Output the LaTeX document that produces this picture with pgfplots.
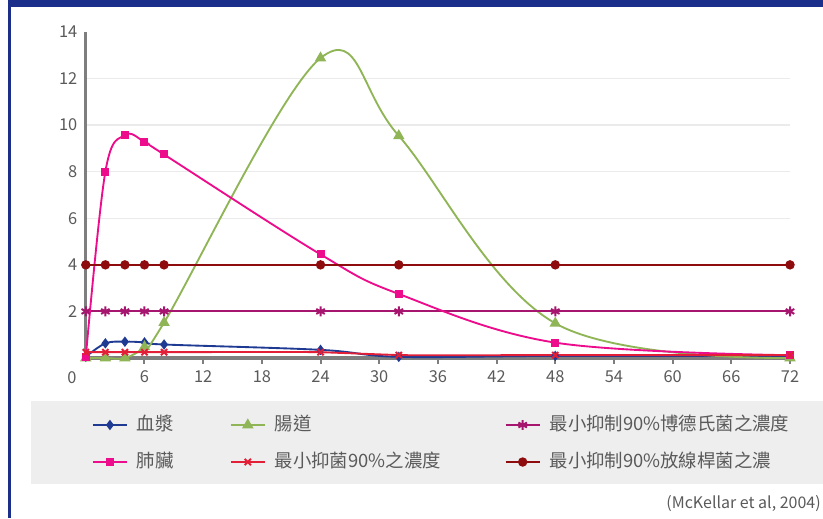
\documentclass[border=0pt]{standalone}
\usepackage{fontspec}
\setmainfont{Noto Sans CJK TC}
\usepackage{pgfplots}
\usepackage{pgfplotstable}
\pgfplotsset{compat=1.18}

\definecolor{frameblue}{HTML}{1B2E8A}
\definecolor{plasma}{HTML}{1F3A93}
\definecolor{gut}{HTML}{8FB556}
\definecolor{lung}{HTML}{EC0C8C}
\definecolor{micred}{HTML}{E21F36}
\definecolor{bord}{HTML}{A6166E}
\definecolor{actino}{HTML}{8E0B0E}
\definecolor{txtgray}{HTML}{5A5A5A}
\definecolor{axgray}{HTML}{7E7E7E}
\definecolor{gridgray}{HTML}{EBEBEB}
\definecolor{legbg}{HTML}{EEEEEE}

% concentration vs. hours after dosing
\pgfplotstableread{
t   plasma gut   bord lung mic   actino
0   0.05   0     2    0.05 0.25  4
2   0.63   0     2    8.00 0.25  4
4   0.70   0     2    9.57 0.25  4
6   0.67   0.48  2    9.28 0.25  4
8   0.58   1.52  2    8.74 0.25  4
24  0.35   12.88 2    4.45 0.25  4
32  0.05   9.54  2    2.75 0.125 4
48  0.09   1.49  2    0.66 0.125 4
72  0.08   0     2    0.12 0.125 4
}\data

\begin{document}
\begin{tikzpicture}
\useasboundingbox (0,0) rectangle (617.25pt,388.5pt);
\fill[frameblue] (6pt,383.6pt) rectangle (617.25pt,388.5pt);
\fill[frameblue] (6pt,0pt) rectangle (8.25pt,388.5pt);
\fill[legbg] (23.25pt,25.5pt) rectangle (617.25pt,87.75pt);

\begin{axis}[
    at={(64.35pt,120pt)}, anchor=south west,
    scale only axis, width=528.15pt, height=244.5pt,
    xmin=0, xmax=72, ymin=0, ymax=14,
    clip=false,
    axis x line=bottom, axis y line=left,
    x axis line style={draw=axgray, line width=2.4pt, -},
    y axis line style={draw=axgray, line width=2.4pt, -},
    xtick={6,12,...,72},
    ytick={2,4,...,12},
    extra y ticks={14},
    extra y tick style={grid=none},
    ymajorgrids,
    grid style={gridgray, line width=1.1pt},
    major tick length=4.4pt,
    x tick style={draw=axgray, line width=1.5pt, yshift=-2.2pt},
    y tick style={draw=none},
    ticklabel style={font=\fontsize{12.3}{14}\selectfont, text=txtgray},
    /pgf/number format/assume math mode=true,
    x tick label style={anchor=north, inner sep=0pt, yshift=-7pt},
    y tick label style={anchor=east, inner sep=0pt, xshift=-4pt},
    legend columns=3,
    legend cell align=left,
    legend style={at={(0.0088,-0.2623)}, anchor=west, draw=none, fill=none,
        inner sep=0pt, outer sep=0pt, row sep=14.25pt,
        font=\fontsize{13.8}{16}\selectfont, text=txtgray,
        nodes={inner sep=0pt, text height=11pt, text depth=2.5pt}},
    /tikz/every odd column/.append style={column sep=6.75pt},
    legend image code/.code={
        \draw[mark repeat=2,mark phase=2,#1]
        plot coordinates {(0pt,0pt) (12.75pt,0pt) (25.5pt,0pt)};},
    every axis plot/.append style={line width=1.4pt, smooth, tension=0.6},
]
\addplot[plasma, mark=diamond*, mark size=2.8pt] table[x=t, y=plasma] {\data};
\addlegendentry{\makebox[69.75pt][l]{血漿}}
\addplot[gut, mark=triangle*, mark size=3.6pt] table[x=t, y=gut] {\data};
\addlegendentry{\makebox[172.5pt][l]{腸道}}
\addplot[bord, mark=asterisk, mark size=3.7pt, mark options={line width=1.5pt}] table[x=t, y=bord] {\data};
\addlegendentry{最小抑制90\%博德氏菌之濃度}
\addplot[lung, mark=square*, mark size=2.3pt] table[x=t, y=lung] {\data};
\addlegendentry{\makebox[69.75pt][l]{肺臟}}
\addplot[micred, mark=x, mark size=3.3pt, mark options={line width=1.5pt}] table[x=t, y=mic] {\data};
\addlegendentry{\makebox[172.5pt][l]{最小抑菌90\%之濃度}}
\addplot[actino, mark=*, mark size=2.8pt] table[x=t, y=actino] {\data};
\addlegendentry{最小抑制90\%放線桿菌之濃}
\node[anchor=north, inner sep=0pt, text=txtgray, font=\fontsize{12.3}{14}\selectfont,
    xshift=-10.35pt, yshift=-10pt] at (axis cs:0,0) {0};
\end{axis}

\node[anchor=east, inner sep=0pt, text=txtgray, font=\fontsize{12}{14}\selectfont]
    at (615.75pt,11pt) {(McKellar et al, 2004)};
\end{tikzpicture}
\end{document}
